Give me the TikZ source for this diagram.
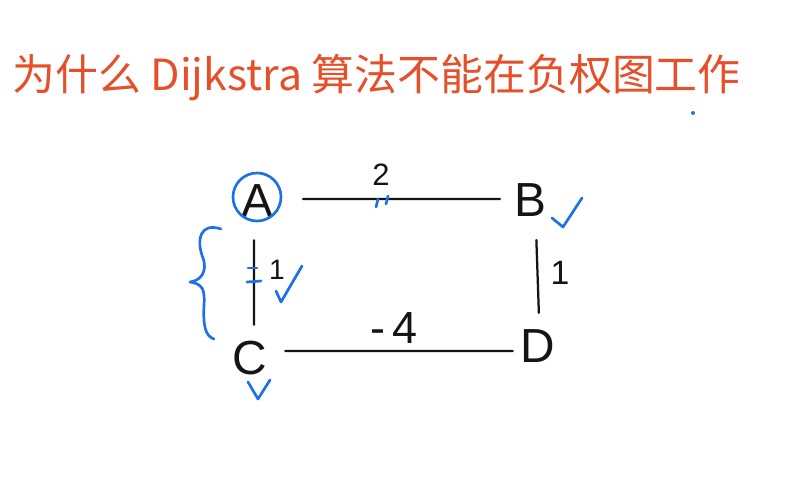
\documentclass[tikz,border=0pt]{standalone}
\usepackage{fontspec}
\setmainfont{Liberation Sans}
\newfontfamily\cjk{Noto Sans CJK SC}
\usetikzlibrary{positioning}
\definecolor{titlered}{RGB}{229,80,42}
\definecolor{penblue}{RGB}{28,112,232}
\definecolor{ink}{RGB}{20,20,20}
\tikzset{
  vertex/.style={text=ink,inner sep=0pt,font=\fontsize{34}{34}\selectfont},
  edge/.style={draw=ink,line width=1.6pt,line cap=round},
  weight/.style={text=ink,inner sep=0pt,font=\fontsize{#1}{#1}\selectfont},
  weight/.default=22,
  bluepen/.style={draw=penblue,line width=1.9pt,line cap=round,line join=round},
}
\begin{document}
\begin{tikzpicture}[x=0.025cm,y=-0.025cm]
  \useasboundingbox (0,0) rectangle (798,480);
  % title
  \node[anchor=base west,inner sep=0pt,text=titlered,font=\cjk\fontsize{30.5}{30.5}\selectfont]
    (title) at (12,90) {为什么 Dijkstra 算法不能在负权图工作};
  \fill[penblue] (693,113) circle[radius=0.05cm];
  % vertices
  \node[vertex] (A) at (257,201) {A};
  \node[vertex] (B) at (530,200) {B};
  \node[vertex] (C) at (250,358) {C};
  \node[vertex] (D) at (538,346) {D};
  % edges
  \draw[edge,shorten <=1.15cm,shorten >=0.75cm] ([yshift=0.05cm]A.center) -- ([yshift=0.025cm]B.center);
  \draw[edge,shorten <=0.98cm,shorten >=0.83cm] ([xshift=-0.075cm]A.center) -- ([xshift=0.1cm]C.center);
  \draw[edge,shorten <=1.0cm,shorten >=0.83cm] ([xshift=0.125cm]B.center) -- ([xshift=0.05cm]D.center);
  \draw[edge,shorten <=0.88cm,shorten >=0.63cm] ([yshift=0.175cm]C.center) -- ([yshift=-0.125cm]D.center);
  % weights
  \node[weight] (wAB) at (381,175) {2};
  \node[weight=20] (wAC) at (277,270) {1};
  \node[weight=24] (wBD) at (560,273) {1};
  \node[weight=32] (wCD) at (394,328) {-\,4};
  % blue annotations
  \draw[bluepen] (A.center) ++(0,-4) circle[radius=0.6cm];
  \draw[bluepen] (552,218) -- (563,227) -- (582,198);
  \draw[bluepen] (248,382) -- (258,399) -- (270,380);
  \draw[bluepen] (276,291) -- (281,302) -- (302,266);
  \draw[bluepen] (376,207) -- (378,199);
  \draw[bluepen] (386,204) -- (388,196);
  \draw[bluepen] (248,268) -- (257,268);
  \draw[bluepen] (247,282) -- (261,281);
  \draw[bluepen] (221,229) .. controls (200,222) and (196,240) .. (203,258)
    .. controls (208,272) and (200,281) .. (190,282)
    .. controls (203,284) and (205,290) .. (204,305)
    .. controls (203,325) and (205,336) .. (214,339);
\end{tikzpicture}
\end{document}
